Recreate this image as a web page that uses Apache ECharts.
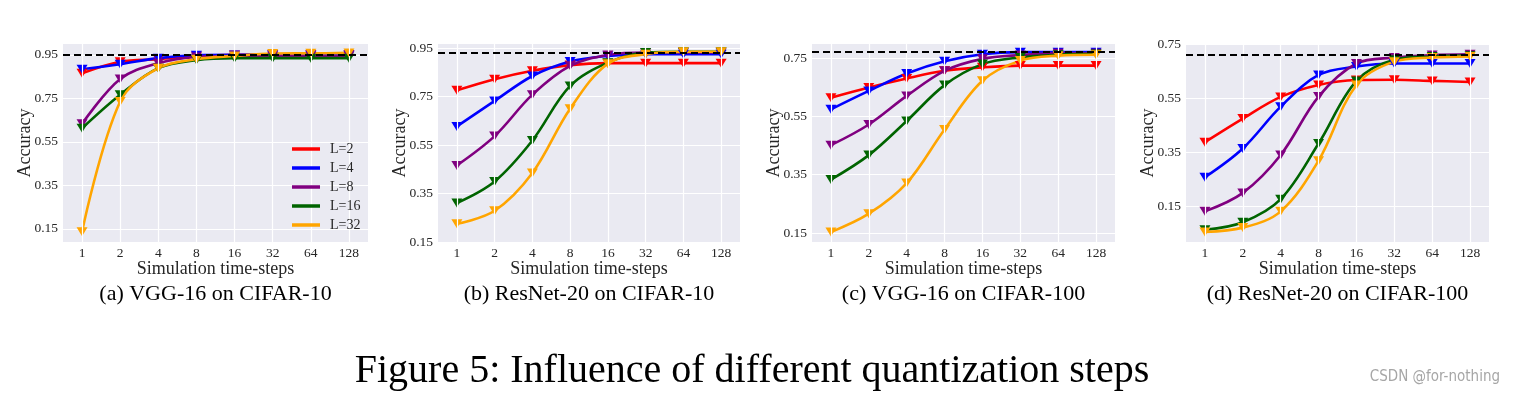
<!DOCTYPE html>
<html><head><meta charset="utf-8">
<script src="https://cdn.jsdelivr.net/npm/echarts@6/dist/echarts.min.js"></script>
<style>html,body{margin:0;padding:0;background:#fff}#c{width:1514px;height:396px}</style>
</head><body><div id="c"></div>
<script>
// ---- data ----
const categories = ['1','2','4','8','16','32','64','128'];
const seriesNames = ['L=2','L=4','L=8','L=16','L=32'];

// (a) VGG-16 on CIFAR-10
const a_L2  = [0.865,0.918,0.930,0.945,0.950,0.952,0.952,0.952];
const a_L4  = [0.884,0.907,0.935,0.948,0.950,0.950,0.950,0.950];
const a_L8  = [0.633,0.839,0.912,0.940,0.945,0.945,0.945,0.945];
const a_L16 = [0.613,0.767,0.889,0.926,0.935,0.935,0.935,0.935];
const a_L32 = [0.137,0.736,0.889,0.930,0.945,0.956,0.957,0.959];
// (b) ResNet-20 on CIFAR-10
const b_L2  = [0.776,0.822,0.857,0.880,0.888,0.888,0.888,0.888];
const b_L4  = [0.627,0.732,0.835,0.895,0.918,0.925,0.925,0.925];
const b_L8  = [0.466,0.587,0.758,0.877,0.922,0.932,0.932,0.932];
const b_L16 = [0.311,0.400,0.569,0.794,0.890,0.932,0.935,0.935];
const b_L32 = [0.225,0.279,0.435,0.700,0.886,0.925,0.935,0.935];
// (c) VGG-16 on CIFAR-100
const c_L2  = [0.614,0.649,0.680,0.706,0.718,0.724,0.724,0.724];
const c_L4  = [0.574,0.637,0.697,0.739,0.763,0.770,0.770,0.770];
const c_L8  = [0.451,0.522,0.620,0.706,0.747,0.760,0.766,0.766];
const c_L16 = [0.333,0.417,0.534,0.657,0.729,0.752,0.761,0.764];
const c_L32 = [0.153,0.216,0.321,0.505,0.672,0.741,0.758,0.761];
// (d) ResNet-20 on CIFAR-100
const d_L2  = [0.388,0.475,0.555,0.599,0.617,0.618,0.614,0.610];
const d_L4  = [0.259,0.365,0.519,0.636,0.667,0.678,0.678,0.678];
const d_L8  = [0.133,0.201,0.341,0.556,0.678,0.700,0.709,0.712];
const d_L16 = [0.065,0.093,0.178,0.383,0.614,0.692,0.704,0.707];
const d_L32 = [0.057,0.073,0.133,0.320,0.599,0.685,0.700,0.704];

const baselines = [0.953,0.933,0.766,0.713];
const ticksA = [0.15,0.35,0.55,0.75,0.95];
const ticksB = [0.15,0.35,0.55,0.75,0.95];
const ticksC = [0.15,0.35,0.55,0.75];
const ticksD = [0.15,0.35,0.55,0.75];
const yMins = [0.09,0.15,0.119,0.02];
const yMaxs = [1.0,0.967,0.798,0.75];
const captions = ['(a) VGG-16 on CIFAR-10','(b) ResNet-20 on CIFAR-10','(c) VGG-16 on CIFAR-100','(d) ResNet-20 on CIFAR-100'];
const figTitle = 'Figure 5: Influence of different quantization steps';
const watermark = 'CSDN @for-nothing';
const xName = 'Simulation time-steps';
const yName = 'Accuracy';

// ---- layout ----
const SERIF = "'Liberation Serif','Times New Roman',serif";
const colors = ['#ff0000','#0000ff','#800080','#006400','#ffa500'];
const panelData = [
  [a_L2,a_L4,a_L8,a_L16,a_L32],
  [b_L2,b_L4,b_L8,b_L16,b_L32],
  [c_L2,c_L4,c_L8,c_L16,c_L32],
  [d_L2,d_L4,d_L8,d_L16,d_L32]
];
const panelTicks = [ticksA,ticksB,ticksC,ticksD];
const gridPos = [
  {left:63,width:305},
  {left:438,width:302},
  {left:812,width:303},
  {left:1186,width:303}
];
const TOP = 44, BOTTOM_Y = 242;

const grids = [], xAxes = [], yAxes = [], series = [], graphics = [];
gridPos.forEach((g, i) => {
  grids.push({left:g.left, width:g.width, top:TOP, height:BOTTOM_Y-TOP, show:true,
    backgroundColor:'#eaeaf2', borderWidth:0, containLabel:false});
  xAxes.push({type:'category', gridIndex:i, data:categories, boundaryGap:true,
    axisLine:{show:false}, axisTick:{show:false}, splitLine:{show:false},
    axisLabel:{color:'#262626', fontFamily:SERIF, fontSize:13.5, margin:4},
    name:xName, nameLocation:'middle', nameGap:18, nameMoveOverlap:false,
    nameTextStyle:{color:'#262626', fontFamily:SERIF, fontSize:18}});
  yAxes.push({type:'value', gridIndex:i, min:yMins[i], max:yMaxs[i],
    axisLine:{show:false},
    axisTick:{show:false, customValues:panelTicks[i]},
    axisLabel:{color:'#262626', fontFamily:SERIF, fontSize:13.5, margin:5,
      customValues:panelTicks[i], formatter:v=>v.toFixed(2)},
    splitLine:{show:true, lineStyle:{color:'#ffffff', width:1.2}},
    name:yName, nameLocation:'middle', nameGap:29, nameMoveOverlap:false,
    nameTextStyle:{color:'#262626', fontFamily:SERIF, fontSize:18}});
  // vertical grid lines at category centres
  series.push({type:'line', name:'_vgrid'+i, xAxisIndex:i, yAxisIndex:i, data:[], z:1, silent:true,
    markLine:{silent:true, symbol:['none','none'], label:{show:false},
      lineStyle:{color:'#ffffff', width:1.2, type:'solid'},
      emphasis:{disabled:true}, animation:false,
      data:categories.map(c=>({xAxis:c}))}});
  panelData[i].forEach((d, k) => {
    series.push({type:'line', name:seriesNames[k], xAxisIndex:i, yAxisIndex:i, data:d,
      smooth:0.35, symbol:'triangle', symbolRotate:180, symbolSize:[11,9], showSymbol:true,
      lineStyle:{width:2.6, color:colors[k]}, itemStyle:{color:colors[k], borderWidth:0}, z:3,
      emphasis:{disabled:true}, animation:false});
  });
  series.push({type:'line', name:'_base'+i, xAxisIndex:i, yAxisIndex:i, data:[], z:4, silent:true,
    markLine:{silent:true, symbol:['none','none'], label:{show:false},
      lineStyle:{color:'#000000', width:1.8, type:[7,4]},
      emphasis:{disabled:true}, animation:false,
      data:[{yAxis:baselines[i]}]}});
  graphics.push({type:'text', x:g.left+g.width/2, y:294,
    style:{text:captions[i], font:'22px '+SERIF, fill:'#000', textAlign:'center', textVerticalAlign:'middle'}});
});
graphics.push({type:'text', x:752, y:371,
  style:{text:figTitle, font:'40px '+SERIF, fill:'#000', textAlign:'center', textVerticalAlign:'middle'}});
graphics.push({type:'text', x:1500, y:377,
  style:{text:watermark, font:"15px 'Liberation Sans Narrow','DejaVu Sans Condensed',sans-serif", fill:'#a6a6a6', textAlign:'right', textVerticalAlign:'middle'}});

const chart = echarts.init(document.getElementById('c'), null, {renderer:'canvas'});
chart.setOption({
  animation:false,
  backgroundColor:'#ffffff',
  grid:grids, xAxis:xAxes, yAxis:yAxes, series:series, graphic:graphics,
  legend:{data:seriesNames, orient:'vertical', left:287, top:137, itemWidth:28, itemHeight:3.5,
    itemGap:5, icon:'rect', z:10, textStyle:{fontFamily:SERIF, fontSize:14, color:'#262626', padding:[0,0,0,5]},
    selectedMode:false}
});
</script></body></html>
